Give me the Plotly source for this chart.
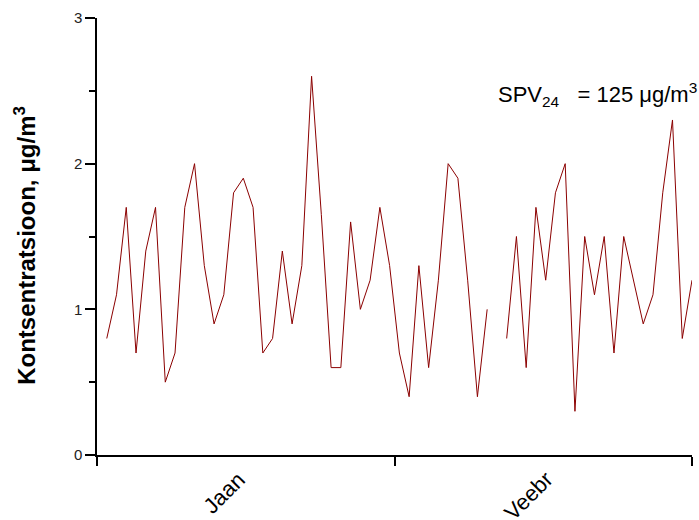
import plotly.graph_objects as go

# Daily concentrations, 1 Jan .. 1 Mar (None = missing day)
days = list(range(1, 62))
conc = [
    0.8, 1.1, 1.7, 0.7, 1.4, 1.7, 0.5, 0.7, 1.7, 2.0,
    1.3, 0.9, 1.1, 1.8, 1.9, 1.7, 0.7, 0.8, 1.4, 0.9,
    1.3, 2.6, 1.65, 0.6, 0.6, 1.6, 1.0, 1.2, 1.7, 1.3,
    0.7, 0.4, 1.3, 0.6, 1.2, 2.0, 1.9, 1.2, 0.4, 1.0,
    None, 0.8, 1.5, 0.6, 1.7, 1.2, 1.8, 2.0, 0.3, 1.5,
    1.1, 1.5, 0.7, 1.5, 1.2, 0.9, 1.1, 1.8, 2.3, 0.8,
    1.2,
]

month_ticks = [0, 30.5, 61]
month_labels = ["Jaan", "Veebr"]
month_label_pos = [16.0, 47.6]
y_ticks = [0, 1, 2, 3]

FONT = "Arial, Liberation Sans, sans-serif"

fig = go.Figure()
fig.add_trace(go.Scatter(
    x=days, y=conc, mode="lines",
    line=dict(color="#8B0000", width=1),
    connectgaps=False, showlegend=False,
))

fig.update_layout(
    width=699, height=520,
    margin=dict(l=97, r=7, t=18, b=65),
    paper_bgcolor="white", plot_bgcolor="white",
    font=dict(family=FONT, color="black"),
)

fig.update_xaxes(
    range=[0, 61], tickvals=month_ticks, showticklabels=False,
    ticks="outside", ticklen=9, tickwidth=1.5, tickcolor="black",
    showline=True, linewidth=1.5, linecolor="black",
    showgrid=False, zeroline=False,
)
fig.update_yaxes(
    range=[0, 3], tickvals=y_ticks, ticktext=[str(v) for v in y_ticks],
    ticks="outside", ticklen=10, tickwidth=1.5, tickcolor="black",
    tickfont=dict(size=15, family=FONT, color="#222"),
    minor=dict(dtick=0.5, ticks="outside", ticklen=6, tickwidth=1.5, tickcolor="black"),
    showline=True, linewidth=1.5, linecolor="black",
    showgrid=False, zeroline=False,
)

annotations = []
for lbl, pos in zip(month_labels, month_label_pos):
    annotations.append(dict(
        x=pos, y=-0.02, xref="x", yref="paper",
        text=lbl, textangle=-45, showarrow=False,
        xanchor="right", yanchor="top",
        font=dict(size=22, family=FONT, color="black"),
    ))

annotations.append(dict(
    x=-0.12, y=0.48, xref="paper", yref="paper",
    text="<b>Kontsentratsioon, μg/m<sup>3</sup></b>", textangle=-90,
    showarrow=False, xanchor="center", yanchor="middle",
    font=dict(size=24, family=FONT, color="black"),
))

annotations.append(dict(
    x=1.012, y=0.826, xref="paper", yref="paper",
    text="SPV<sub>24</sub>&nbsp;&nbsp; = 125 μg/m<sup>3</sup>",
    showarrow=False, xanchor="right", yanchor="middle",
    font=dict(size=22, family=FONT, color="black"),
))

fig.update_layout(annotations=annotations)

fig.write_html("out.html")
